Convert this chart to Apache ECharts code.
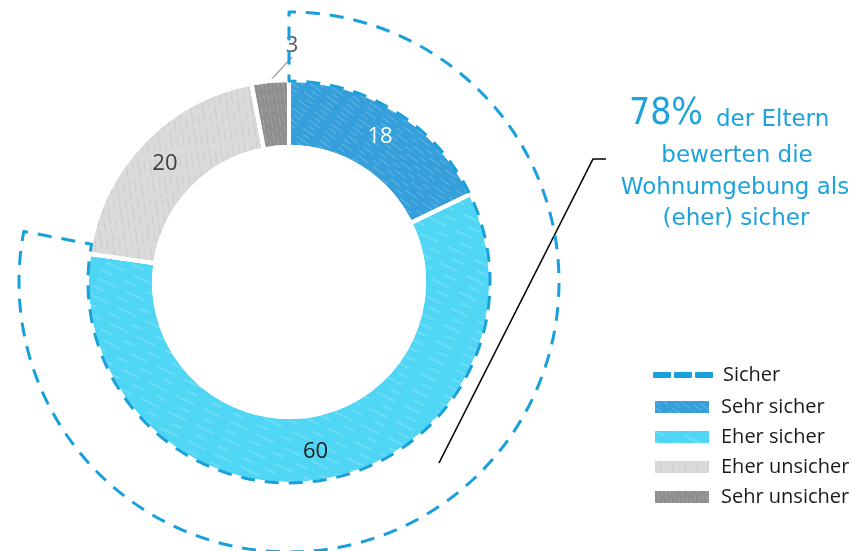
<!DOCTYPE html>
<html>
<head>
<meta charset="utf-8">
<script src="https://cdn.jsdelivr.net/npm/echarts@6/dist/echarts.min.js"></script>
<style>
html,body{margin:0;padding:0;background:#fff;}
#chart{width:855px;height:551px;}
</style>
</head>
<body>
<div id="chart"></div>
<script>
// ---- data ----
const categories = ['Sehr sicher', 'Eher sicher', 'Eher unsicher', 'Sehr unsicher'];
const values = [18, 60, 20, 3];
const sicherName = 'Sicher';
const sicherValue = 78;
const sicherRest = 22;
const headlineValue = '78%';
const headlineLines = ['der Eltern', 'bewerten die', 'Wohnumgebung als', '(eher) sicher'];

// ---- styles ----
const colors = ['#349FDA', '#50D6F5', '#DADADA', '#8E8E8E'];
const labelColors = ['#ffffff', '#1a1a1a', '#404040', '#595959'];
const decals = [
  {symbol: 'rect', symbolSize: 1, dashArrayX: [[14, 6], [8, 10]], dashArrayY: [1, 4], rotation: Math.PI / 5, color: 'rgba(255,255,255,0.22)'},
  {symbol: 'rect', symbolSize: 1, dashArrayX: [[20, 10], [12, 14]], dashArrayY: [2, 7], rotation: Math.PI / 7, color: 'rgba(255,255,255,0.16)'},
  {symbol: 'rect', symbolSize: 1, dashArrayX: [[18, 4], [10, 8]], dashArrayY: [1, 5], rotation: Math.PI / 2.2, color: 'rgba(0,0,0,0.07)'},
  {symbol: 'rect', symbolSize: 1, dashArrayX: [[10, 3], [6, 5]], dashArrayY: [1, 3], rotation: Math.PI / 2.2, color: 'rgba(255,255,255,0.18)'}
];
const dashBlue = '#17A0DB';
const textBlue = '#1CA3DE';
const FONT = '"Open Sans", "Noto Sans", sans-serif';
const FONT2 = '"DejaVu Sans", Verdana, sans-serif';
const FONT2C = '"DejaVu Sans Condensed", "DejaVu Sans", Verdana, sans-serif';

const chart = echarts.init(document.getElementById('chart'), null, {renderer: 'canvas'});

const pieData = categories.map((c, i) => ({
  name: c,
  value: values[i],
  itemStyle: {color: colors[i], decal: decals[i]},
  label: i === 3
    ? {position: 'outside', color: labelColors[i]}
    : {position: 'inside', color: labelColors[i]},
  labelLine: {show: i === 3}
}));

const option = {
  animation: false,
  legend: [
    {
      orient: 'vertical',
      left: 653,
      top: 365,
      padding: 0,
      itemWidth: 58,
      itemHeight: 4,
      data: [{
        name: sicherName,
        icon: 'path://M0,0h16v4h-16z M21,0h16v4h-16z M42,0h16v4h-16z',
        itemStyle: {color: dashBlue}
      }],
      textStyle: {fontFamily: FONT, fontSize: 20, color: '#1a1a1a', lineHeight: 20, padding: [0, 0, 0, 6]},
      selectedMode: false
    },
    {
      orient: 'vertical',
      left: 653,
      top: 397,
      padding: 0,
      itemWidth: 56,
      itemHeight: 14,
      itemGap: 10,
      icon: 'rect',
      data: categories,
      textStyle: {fontFamily: FONT, fontSize: 20, color: '#1a1a1a', lineHeight: 20, padding: [0, 0, 0, 6]},
      selectedMode: false
    }
  ],
  series: [
    {
      name: 'Sicherheit',
      type: 'pie',
      center: [289, 282],
      radius: [135, 202],
      startAngle: 90,
      clockwise: true,
      avoidLabelOverlap: false,
      silent: true,
      z: 2,
      itemStyle: {borderColor: '#ffffff', borderWidth: 4},
      label: {
        show: true,
        fontFamily: FONT,
        fontSize: 22,
        formatter: '{c}'
      },
      labelLine: {
        show: true,
        length: 14,
        length2: 0,
        lineStyle: {color: '#9a9a9a', width: 1.2}
      },
      labelLayout: function (p) {
        if (p.dataIndex === 3) {
          return {x: 292, y: 46, align: 'center', verticalAlign: 'middle'};
        }
        return {};
      },
      data: pieData
    },
    {
      name: sicherName,
      type: 'pie',
      center: [289, 282],
      radius: [201, 270],
      startAngle: 90,
      clockwise: true,
      silent: true,
      z: 3,
      label: {show: false},
      labelLine: {show: false},
      itemStyle: {
        color: 'rgba(0,0,0,0)',
        borderColor: dashBlue,
        borderWidth: 3,
        borderType: [14, 10],
        borderDashOffset: 7
      },
      data: [
        {name: sicherName, value: sicherValue},
        {name: '', value: sicherRest, itemStyle: {color: 'none', borderWidth: 0, borderColor: 'none'}}
      ]
    }
  ],
  graphic: [
    {
      type: 'polyline',
      silent: true,
      shape: {points: [[439, 463], [593, 159], [606, 159]]},
      style: {stroke: '#000000', lineWidth: 1.6, fill: null}
    },
    {
      type: 'text',
      x: 703, y: 114,
      style: {text: headlineValue, font: '37px ' + FONT2C, fill: textBlue, align: 'right', verticalAlign: 'middle'}
    },
    {
      type: 'text',
      x: 716, y: 120,
      style: {text: headlineLines[0], font: '23px ' + FONT2, fill: textBlue, align: 'left', verticalAlign: 'middle'}
    },
    {
      type: 'text',
      x: 737, y: 156,
      style: {text: headlineLines[1], font: '23px ' + FONT2, fill: textBlue, align: 'center', verticalAlign: 'middle'}
    },
    {
      type: 'text',
      x: 735, y: 188,
      style: {text: headlineLines[2], font: '23px ' + FONT2, fill: textBlue, align: 'center', verticalAlign: 'middle'}
    },
    {
      type: 'text',
      x: 736, y: 219,
      style: {text: headlineLines[3], font: '23px ' + FONT2, fill: textBlue, align: 'center', verticalAlign: 'middle'}
    }
  ]
};

chart.setOption(option);
</script>
</body>
</html>
